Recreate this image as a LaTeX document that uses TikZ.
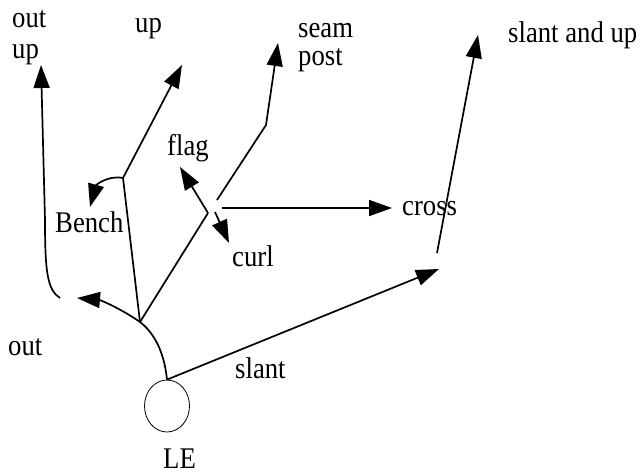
\documentclass[tikz,border=0pt]{standalone}
\usepackage{fontspec}
\setmainfont{Liberation Serif}[FakeStretch=0.89]
\usetikzlibrary{arrows.meta,shapes.geometric}
\begin{document}
\begin{tikzpicture}[x=1pt,y=-1pt,
  lbl/.style={inner sep=0pt,anchor=base west,font=\fontsize{30pt}{31pt}\selectfont},
  ln/.style={line width=1.7pt},
  arr/.style={ln,-{Triangle[length=23pt,width=16pt]}}]
\useasboundingbox (0,0) rectangle (642,474);
% ball
\node[draw,ellipse,line width=0.8pt,minimum width=45pt,minimum height=52pt,inner sep=0pt] (le) at (167,406) {};
% points
\coordinate (J) at (140,322);
\coordinate (outtip) at (77,298);
\coordinate (B) at (123,178);
\coordinate (uptip) at (182,65);
\coordinate (benchtip) at (90,207);
\coordinate (F) at (208,213);
\coordinate (Fc) at (215,212);
\coordinate (flagtip) at (180,167);
\coordinate (curltip) at (229,243);
\coordinate (S0) at (217,200);
\coordinate (S1) at (266,125);
\coordinate (seamtip) at (278,43);
\coordinate (C0) at (222,208);
\coordinate (crosstip) at (392,208);
\coordinate (slanttip) at (439,269);
\coordinate (U0) at (437,253);
\coordinate (sutip) at (478,35);
\coordinate (O0) at (60,298);
\coordinate (outuptip) at (41,65);
% labels
\node[lbl] (l-out1) at (12,27) {out};
\node[lbl] (l-up1) at (12,58) {up};
\node[lbl] (l-up) at (135,32) {up};
\node[lbl] (l-seam) at (298,37) {seam};
\node[lbl] (l-post) at (298,65) {post};
\node[lbl] (l-su) at (508,42) {slant and up};
\node[lbl] (l-flag) at (167,155) {flag};
\node[lbl] (l-bench) at (55,232) {Bench};
\node[lbl] (l-cross) at (402,215) {cross};
\node[lbl] (l-curl) at (232,266) {curl};
\node[lbl] (l-out) at (8,355) {out};
\node[lbl] (l-slant) at (235,378) {slant};
\node[lbl] (l-le) at (163,468) {LE};
% routes
\draw[arr] (le.north) .. controls (164,350) and (153,332) .. (J)
  .. controls (120,308) and (100,300) .. (outtip);
\draw[arr] (J) -- (B) -- (uptip);
\draw[arr] (B) .. controls (108,175) and (96,185) .. (benchtip);
\draw[ln] (J) -- (F);
\draw[arr] (F) -- (flagtip);
\draw[arr] (Fc) -- (curltip);
\draw[arr] (S0) -- (S1) -- (seamtip);
\draw[arr] (C0) -- (crosstip);
\draw[arr] (le.north) -- (slanttip);
\draw[arr] (U0) -- (sutip);
\draw[arr] (O0) .. controls (47,290) and (45,270) .. (45,220) -- (outuptip);
\end{tikzpicture}
\end{document}
